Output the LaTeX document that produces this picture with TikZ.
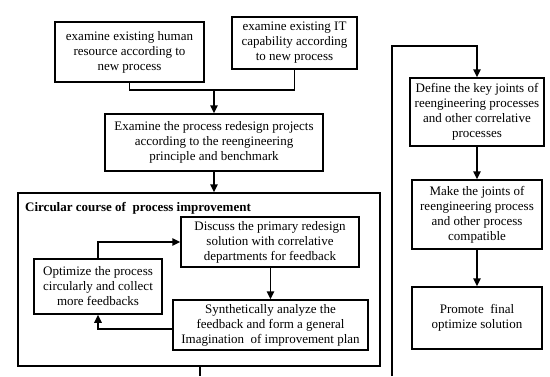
\documentclass[tikz,border=0pt]{standalone}
\usepackage{fontspec}
\setmainfont{Liberation Serif}
\usetikzlibrary{positioning}
\usetikzlibrary{arrows.meta}
\tikzset{
	stepbox/.style={draw=black, line width=1.5pt, align=center, inner sep=2pt, font=\fontsize{13}{15}\selectfont},
	flow/.style={line width=1.5pt, -{Triangle[length=8pt,width=7.5pt]}},
	link/.style={line width=1.5pt},
}

\begin{document}
\begin{tikzpicture}[x=1pt, y=-1pt]
\useasboundingbox (0,0) rectangle (550,376);

\node[stepbox, minimum width=149, minimum height=60] (human) at (129.5,52) {examine existing human\\resource according to\\new process};
\node[stepbox, minimum width=125, minimum height=52] (itcap) at (294.5,43) {examine existing IT\\capability according\\to new process};
\node[stepbox, minimum width=218, minimum height=57] (examine) at (214,142.5) {Examine the process redesign projects\\according to the reengineering\\principle and benchmark};

\coordinate (join) at (214,90);
\draw[link] (human.south) |- (join);
\draw[link] (itcap.south) |- (join);
\draw[flow] (join) -- (examine.north);

% circular course
\node[draw=black, line width=1.5pt, minimum width=362, minimum height=173] (loop) at (199,279.5) {};
\node[anchor=west, font=\fontsize{13}{15}\selectfont\bfseries, inner sep=0pt] (looptitle) at (25,208) {Circular course of\ \ process improvement};
\draw[flow] (examine.south) -- (examine.south |- loop.north);

\node[stepbox, minimum width=178, minimum height=50] (discuss) at (270,242) {Discuss the primary redesign\\solution with correlative\\departments for feedback};
\node[stepbox, minimum width=195, minimum height=50] (synth) at (270.5,325) {Synthetically analyze the\\feedback and form a general\\Imagination\ \ of improvement plan};
\node[stepbox, minimum width=128, minimum height=55] (optim) at (98,286.5) {Optimize the process\\circularly and collect\\more feedbacks};

\draw[flow] (discuss.south -| synth.north) -- (synth.north);
\draw[flow] ([yshift=-4pt]synth.west) -| (optim.south);
\draw[flow] (optim.north) |- (discuss.west);

% right column
\node[stepbox, minimum width=134, minimum height=68] (joints) at (477,112) {Define the key joints of\\reengineering processes\\and other correlative\\processes};
\node[stepbox, minimum width=130, minimum height=69] (compat) at (477,214.5) {Make the joints of\\reengineering process\\and other process\\compatible};
\node[stepbox, minimum width=130, minimum height=62] (promote) at (477,318) {Promote\ \ final\\optimize solution};

\coordinate (leave) at (200,376);
\coordinate (enter) at (392,376);
\coordinate (top) at (392,46);
\draw[link] (loop.south -| leave) -- (leave);
\draw[flow] (enter) -- (top) -| (joints.north);
\draw[flow] (joints) -- (compat);
\draw[flow] (compat) -- (promote);
\end{tikzpicture}
\end{document}
